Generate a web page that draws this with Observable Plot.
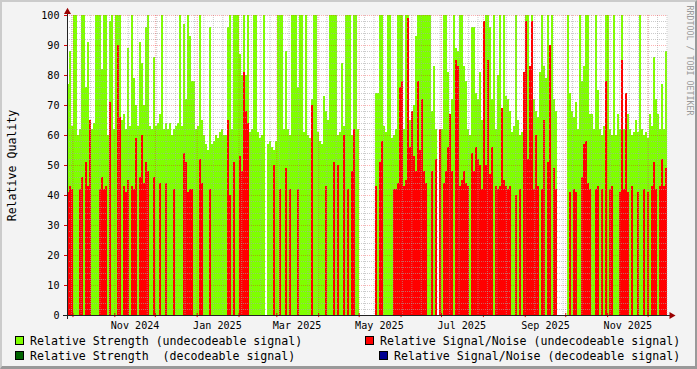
<!DOCTYPE html>
<html><head><meta charset="utf-8">
<script src="https://cdn.jsdelivr.net/npm/d3@7"></script>
<script src="https://cdn.jsdelivr.net/npm/@observablehq/plot@0.6"></script>
<style>
html,body{margin:0;padding:0;background:#f3f3f3;}
#wrap{position:relative;width:697px;height:369px;background:#f3f3f3;overflow:hidden;font-family:"DejaVu Sans Mono",monospace;}
#wrap svg{position:absolute;left:0;top:0;}
.lg{position:absolute;font-size:11.6px;line-height:12px;white-space:pre;color:#000;}
.bx{position:absolute;width:9px;height:9px;box-sizing:border-box;border:1px solid #000;}
#edge{position:absolute;left:0;top:0;width:697px;height:369px;box-sizing:border-box;border-top:2px solid #cbcbcb;border-left:2px solid #cbcbcb;border-right:2px solid #999;border-bottom:3px solid #999;pointer-events:none;}
</style></head>
<body><div id="wrap"><div id="edge"></div></div>
<script>
// Relative Strength (undecodeable signal), one value per column
const strength = [
77,88,63,100,100,60,62,100,100,76,
91,62,62,64,100,100,100,82,100,100,
60,98,100,62,100,100,100,65,67,62,
89,63,100,79,70,63,91,84,70,96,
100,63,62,86,63,64,67,100,62,64,
62,64,60,62,63,64,100,63,97,72,
100,93,78,78,62,63,100,65,60,57,
55,96,57,58,60,59,61,62,60,60,
96,100,62,100,100,100,87,80,100,80,
100,61,62,100,100,61,59,60,100,null,
57,58,56,55,58,100,100,100,62,88,
62,60,100,100,100,76,100,100,61,100,
60,59,72,100,100,61,58,57,73,68,
65,100,100,100,100,60,61,84,63,100,
100,100,60,100,100,62,null,null,null,null,
null,null,null,null,74,74,100,100,63,61,
100,100,59,60,62,100,100,100,62,100,
100,65,68,70,93,100,100,100,100,100,
100,100,68,83,62,null,62,62,100,100,
81,67,72,100,89,88,100,100,83,78,
62,60,96,96,74,72,81,65,66,100,
100,96,72,100,62,80,100,62,100,73,
72,68,61,63,100,65,60,61,70,100,
100,75,100,72,68,66,81,100,83,79,
100,70,100,72,68,null,null,null,null,null,
100,74,68,66,71,62,100,78,83,100,
100,67,67,62,100,75,62,60,63,100,
100,62,60,100,60,67,62,100,62,60,
67,62,60,61,65,61,100,62,60,61,
59,67,63,86,72,67,62,77,62,88
];
// Relative Signal/Noise (undecodeable signal), one value per column
const snr = [
41,43,42,0,0,0,42,46,0,51,
43,65,0,0,0,0,42,46,42,43,
0,71,0,0,0,90,66,0,43,41,
45,0,43,42,59,0,46,60,44,51,
48,0,0,46,0,0,44,0,0,44,
0,0,0,42,0,0,0,0,54,51,
41,42,42,0,0,0,52,44,0,0,
0,42,0,0,0,0,0,0,0,0,
65,40,0,51,0,0,53,48,81,68,
64,0,0,0,0,0,0,0,0,null,
0,0,0,50,0,0,42,0,0,49,
0,42,0,0,0,42,0,0,0,0,
0,0,70,0,0,0,0,0,0,43,
0,0,0,51,0,50,0,0,60,0,
42,0,48,62,0,0,null,null,null,null,
null,null,null,null,43,0,51,58,0,0,
0,0,0,42,42,44,76,78,43,45,
99,56,68,53,48,78,55,72,48,44,
0,0,48,0,52,null,62,0,44,48,
56,67,48,0,85,83,43,45,48,44,
43,0,54,48,56,52,50,42,98,50,
85,47,56,0,43,42,43,69,45,43,
42,43,0,0,40,0,42,0,81,98,
52,83,98,42,60,43,0,42,65,0,
51,90,0,49,42,null,null,null,null,null,
0,41,0,42,41,0,0,46,57,58,
44,42,0,0,42,43,0,42,0,78,
0,42,43,0,0,0,41,85,42,74,
41,0,43,0,0,41,0,0,42,0,
41,0,43,51,42,0,43,52,43,49
];
const yTicks = [0,10,20,30,40,50,60,70,80,90,100];
const xLabels = ["Nov 2024","Jan 2025","Mar 2025","May 2025","Jul 2025","Sep 2025","Nov 2025"];
const xLabelDates = ["2024-11-16","2025-01-16","2025-03-16","2025-05-16","2025-07-16","2025-09-16","2025-11-16"];
const legendLabels = ["Relative Strength (undecodeable signal)","Relative Signal/Noise (undecodeable signal)","Relative Strength  (decodeable signal)","Relative Signal/Noise (decodeable signal)"];
const legendColors = ["#7fff00","#ff0000","#006400","#000090"];
const yTitle = "Relative Quality";
const watermark = "RRDTOOL / TOBI OETIKER";

const start = Date.UTC(2024, 8, 26, 23);
const end = start + 444.4 * 864e5;
const n = strength.length;
const step = (end - start) / n;
const px = (end - start) / 600;
const rows = strength.map((g, i) => ({x1: new Date(start + i * step), x2: new Date(start + (i + 1) * step), g, r: snr[i]}));
const redRows = rows.filter(d => d.r > 0);
const minorY = d3.range(2, 100, 2).filter(v => v % 10 !== 0);
const weeks = d3.utcMonday.range(new Date(start), new Date(end));
const months = d3.utcMonth.range(new Date(start), new Date(end));

const font = "DejaVu Sans Mono";
const chart = Plot.plot({
  width: 697, height: 330,
  marginLeft: 67, marginRight: 30, marginTop: 15, marginBottom: 15,
  style: {background: "transparent", fontFamily: font, fontSize: "10.1px", color: "#000", overflow: "visible"},
  x: {type: "utc", domain: [new Date(start), new Date(end)]},
  y: {domain: [0, 100], label: null},
  marks: [
    Plot.frame({fill: "white", stroke: null}),
    Plot.rectY(rows, {x1: "x1", x2: "x2", y1: 0, y2: "g", fill: "#7fff00", shapeRendering: "crispEdges"}),
    Plot.rectY(redRows, {x1: "x1", x2: "x2", y1: 0, y2: "r", fill: "#ff0000", shapeRendering: "crispEdges"}),
    Plot.ruleY(minorY, {stroke: "#a8a8a8", strokeOpacity: 0.6, strokeDasharray: "1,1"}),
    Plot.ruleX(weeks, {stroke: "#a8a8a8", strokeOpacity: 0.6, strokeDasharray: "1,1"}),
    Plot.ruleY(yTicks.slice(1), {stroke: "#ff0000", strokeOpacity: 0.3, strokeDasharray: "1,1"}),
    Plot.ruleX(months, {stroke: "#ff0000", strokeOpacity: 0.3, strokeDasharray: "1,1"}),
    Plot.ruleX(months, {y1: -0.7, y2: 0.7, stroke: "#e00000"}),
    Plot.ruleY(yTicks, {x1: () => new Date(start - 3 * px), x2: () => new Date(start), stroke: "#e00000"}),
    Plot.ruleX([new Date(start)], {y1: -4 / 3, y2: 101, stroke: "#222"}),
    Plot.ruleY([0], {x1: () => new Date(start - 4 * px), x2: () => new Date(end + 3 * px), stroke: "#222"}),
    Plot.dot([0], {x: () => new Date(start), y: () => 101.2, symbol: "triangle", r: 2.6, fill: "#990000", stroke: null}),
    Plot.dot([0], {x: () => new Date(end + 4 * px), y: () => 0, symbol: "triangle", r: 2.6, rotate: 90, fill: "#990000", stroke: null}),
    Plot.axisY({ticks: yTicks, tickSize: 0, tickPadding: 8, label: null, fontSize: 10.1, fill: "#000"}),
    Plot.axisX({ticks: xLabelDates.map(s => new Date(s + "T00:00Z")), tickFormat: (d, i) => xLabels[i], tickSize: 0, tickPadding: 6, label: null, fontSize: 10.1, fill: "#000"}),
    Plot.text([yTitle], {frameAnchor: "left", dx: -55.2, rotate: -90, textAnchor: "middle", lineAnchor: "middle", fontSize: 11.6, fill: "#000"}),
    Plot.text([watermark], {frameAnchor: "top-right", dx: 21.8, dy: -10, rotate: 90, textAnchor: "start", lineAnchor: "middle", fontSize: 8.3, fill: "#999999"})
  ]
});
const wrap = document.getElementById("wrap");
wrap.insertBefore(chart, document.getElementById("edge"));

const boxPos = [[15, 336], [365, 336], [15, 351], [379, 351]];
const textPos = [[30, 335], [380, 335], [30, 349.5], [394, 349.5]];
legendLabels.forEach((lab, i) => {
  const b = document.createElement("div");
  b.className = "bx";
  b.style.left = boxPos[i][0] + "px"; b.style.top = boxPos[i][1] + "px";
  b.style.background = legendColors[i];
  wrap.insertBefore(b, document.getElementById("edge"));
  const t = document.createElement("div");
  t.className = "lg";
  t.style.left = textPos[i][0] + "px"; t.style.top = textPos[i][1] + "px";
  t.textContent = lab;
  wrap.insertBefore(t, document.getElementById("edge"));
});
</script>
</body></html>
